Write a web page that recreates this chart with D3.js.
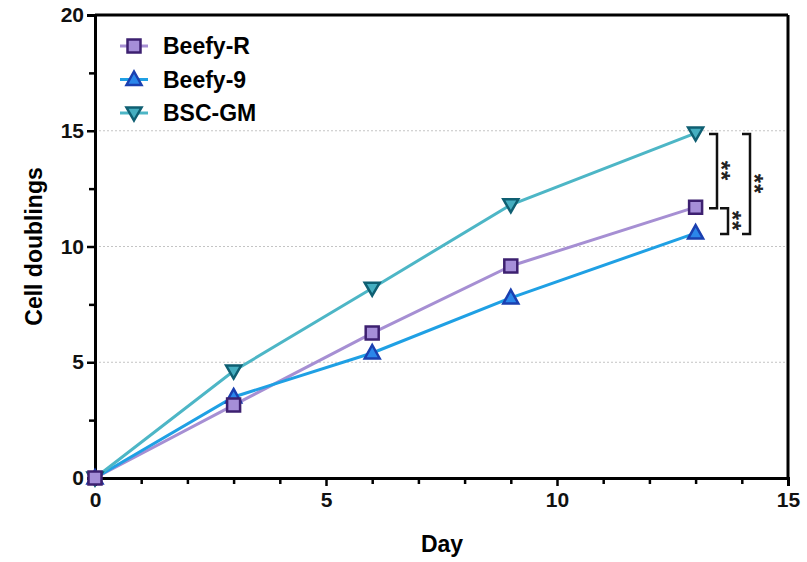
<!DOCTYPE html>
<meta charset="utf-8">
<script src="https://cdn.jsdelivr.net/npm/d3@7"></script>
<style>
  body { margin: 0; background: #fff; }
  text { font-family: "Liberation Sans", Arial, sans-serif; font-weight: bold; }
</style>
<body>
<script>

var width = 807
var height = 562

var days = [0, 3, 6, 9, 13]
var beefyR = [0, 3.15, 6.26, 9.16, 11.7]
var beefy9 = [0, 3.5, 5.4, 7.78, 10.58]
var bscGM = [0, 4.62, 8.2, 11.8, 14.9]
var seriesNames = ["Beefy-R", "Beefy-9", "BSC-GM"]
var xTicks = [0, 5, 10, 15]
var yTicks = [0, 5, 10, 15, 20]
var gridVals = [5, 10, 15]

var x = d3.scaleLinear().domain([0, 15]).range([95, 788])
var y = d3.scaleLinear().domain([0, 20]).range([478, 15])

var series = [
  { name: seriesNames[0], values: beefyR, line: "#a68fd3", fill: "#a58ed8", stroke: "#3d2070", shape: "square" },
  { name: seriesNames[1], values: beefy9, line: "#1fa0e4", fill: "#2b86ea", stroke: "#1a3fb0", shape: "up" },
  { name: seriesNames[2], values: bscGM, line: "#4db6c6", fill: "#45aec0", stroke: "#0f5f72", shape: "down" }
]

var svg = d3.select("body").append("svg")
            .attr("width", width)
            .attr("height", height)

// dotted grid
svg.append("g").selectAll("line").data(gridVals).join("line")
   .attr("x1", x(0)).attr("x2", x(15))
   .attr("y1", d => y(d)).attr("y2", d => y(d))
   .attr("stroke", "#c4c4c4").attr("stroke-width", 1).attr("stroke-dasharray", "2,2")

// frame top / right
svg.append("line").attr("x1", x(0)).attr("x2", x(15)).attr("y1", y(20)).attr("y2", y(20))
   .attr("stroke", "#000").attr("stroke-width", 3)
svg.append("line").attr("x1", x(15)).attr("x2", x(15)).attr("y1", y(20)).attr("y2", y(0))
   .attr("stroke", "#000").attr("stroke-width", 3)

var xAxis = svg.append("g")
    .attr("transform", "translate(0," + y(0) + ")")
    .call(d3.axisBottom(x).tickValues(xTicks).tickSize(8).tickPadding(6).tickFormat(d3.format("d")))
var xMinor = svg.append("g")
    .attr("transform", "translate(0," + y(0) + ")")
    .call(d3.axisBottom(x).tickValues(d3.range(1, 15).filter(d => d % 5 != 0)).tickSize(6).tickFormat(""))

var yAxis = svg.append("g")
    .attr("transform", "translate(" + x(0) + ",0)")
    .call(d3.axisLeft(y).tickValues(yTicks).tickSize(8).tickPadding(3).tickFormat(d3.format("d")))
var yMinor = svg.append("g")
    .attr("transform", "translate(" + x(0) + ",0)")
    .call(d3.axisLeft(y).tickValues([2.5, 7.5, 12.5, 17.5]).tickSize(6).tickFormat(""))

svg.selectAll(".domain").attr("stroke", "#000").attr("stroke-width", 3)
svg.selectAll(".tick line").attr("stroke", "#000").attr("stroke-width", 2.5)
svg.selectAll(".tick text").attr("font-size", 21).attr("fill", "#111")
xMinor.select(".domain").remove()
yMinor.select(".domain").remove()

svg.append("text")
   .attr("transform", "translate(" + 42 + "," + (y(10)) + ") rotate(-90)")
   .attr("text-anchor", "middle")
   .attr("font-size", 23)
   .text("Cell doublings")

svg.append("text")
   .attr("x", 442)
   .attr("y", 552)
   .attr("text-anchor", "middle")
   .attr("font-size", 23)
   .text("Day")

var line = d3.line().x((d, i) => x(days[i])).y(d => y(d))

function symbolPath(shape) {
  if (shape == "square") return "M-6.5,-6.5H6.5V6.5H-6.5Z"
  if (shape == "up") return "M0,-8L7.5,5.5H-7.5Z"
  return "M0,7.5L7.5,-5.5H-7.5Z"
}

series.forEach(function(s) {
  svg.append("path").attr("d", line(s.values))
     .attr("fill", "none").attr("stroke", s.line).attr("stroke-width", 3)
})

// markers, drawn in reverse so Beefy-R sits on top
series.slice().reverse().forEach(function(s) {
  svg.append("g").selectAll("path").data(s.values).join("path")
     .attr("transform", (d, i) => "translate(" + x(days[i]) + "," + y(d) + ")")
     .attr("d", symbolPath(s.shape))
     .attr("fill", s.fill).attr("stroke", s.stroke).attr("stroke-width", 2.5)
})

// legend
var legend = svg.append("g").attr("transform", "translate(134,46)")
series.forEach(function(s, i) {
  var g = legend.append("g").attr("transform", "translate(0," + i * 33.5 + ")")
  g.append("line").attr("x1", -14).attr("x2", 14).attr("stroke", s.line).attr("stroke-width", 3)
  g.append("path").attr("d", symbolPath(s.shape))
   .attr("fill", s.fill).attr("stroke", s.stroke).attr("stroke-width", 2.5)
  g.append("text").attr("x", 29).attr("y", 8).attr("font-size", 23).text(s.name)
})

// significance brackets
var last = days.length - 1
var brackets = [
  { x: 717, top: bscGM[last], bottom: beefyR[last] },
  { x: 728, top: beefyR[last], bottom: beefy9[last] },
  { x: 750, top: bscGM[last], bottom: beefy9[last] }
]
brackets.forEach(function(b) {
  var y1 = y(b.top) + 1, y2 = y(b.bottom) + 1
  svg.append("path")
     .attr("d", "M" + (b.x - 8) + "," + y1 + "H" + b.x + "V" + y2 + "H" + (b.x - 8))
     .attr("fill", "none").attr("stroke", "#111").attr("stroke-width", 2.5)
  svg.append("text")
     .attr("transform", "translate(" + (b.x - 4) + "," + ((y1 + y2) / 2) + ") rotate(90)")
     .attr("text-anchor", "middle")
     .attr("font-size", 24)
     .attr("font-weight", "normal")
     .attr("letter-spacing", 1)
     .attr("fill", "#222")
     .text("**")
})

</script>
</body>
